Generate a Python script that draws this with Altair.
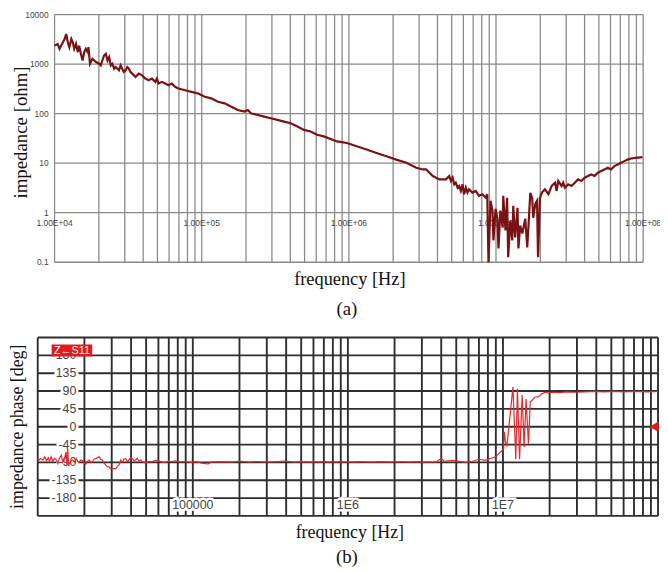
import altair as alt
import pandas as pd

# ---------------- data ----------------
imp_freq = [1.00e4, 1.05e4, 1.08e4, 1.14e4, 1.17e4, 1.20e4, 1.23e4, 1.26e4, 1.30e4, 1.33e4,
            1.36e4, 1.40e4, 1.44e4, 1.47e4, 1.51e4, 1.55e4, 1.59e4, 1.63e4, 1.68e4, 1.70e4,
            1.74e4, 1.81e4, 1.91e4, 2.01e4, 2.06e4, 2.11e4, 2.17e4, 2.23e4, 2.29e4, 2.35e4,
            2.41e4, 2.47e4, 2.54e4, 2.60e4, 2.74e4, 2.81e4, 2.88e4, 2.96e4, 3.04e4, 3.12e4,
            3.20e4, 3.28e4, 3.37e4, 3.55e4, 3.73e4, 3.93e4, 4.14e4, 4.36e4, 4.59e4, 4.84e4,
            4.96e4, 5.09e4, 5.36e4, 5.65e4, 5.94e4, 6.26e4, 6.59e4, 6.95e4, 7.71e4, 8.54e4,
            9.46e4, 1.05e5, 1.16e5, 1.29e5, 1.43e5, 1.59e5, 1.76e5, 1.95e5, 2.06e5, 2.16e5,
            2.40e5, 2.66e5, 2.95e5, 3.27e5, 3.63e5, 4.03e5, 4.47e5, 4.95e5, 5.49e5, 6.09e5,
            6.76e5, 8.30e5, 9.70e5, 1.13e6, 1.32e6, 1.54e6, 1.80e6, 2.10e6, 2.46e6, 2.87e6,
            3.18e6, 3.35e6, 3.53e6, 3.72e6, 4.12e6, 4.57e6, 4.81e6, 4.94e6, 5.07e6, 5.20e6,
            5.33e6, 5.48e6, 5.62e6, 5.77e6, 5.92e6, 6.07e6, 6.24e6, 6.40e6, 6.56e6, 6.91e6,
            7.28e6, 7.66e6, 8.07e6, 8.49e6, 8.72e6, 8.89e6, 9.18e6, 9.46e6, 9.61e6, 9.93e6,
            1.02e7, 1.04e7, 1.07e7, 1.11e7, 1.12e7, 1.16e7, 1.19e7, 1.21e7, 1.25e7, 1.29e7,
            1.31e7, 1.35e7, 1.40e7, 1.42e7, 1.46e7, 1.51e7, 1.58e7, 1.63e7, 1.66e7, 1.71e7,
            1.76e7, 1.79e7, 1.85e7, 1.90e7, 1.93e7, 1.99e7, 2.05e7, 2.15e7, 2.27e7, 2.39e7,
            2.52e7, 2.58e7, 2.65e7, 2.79e7, 2.86e7, 2.94e7, 3.09e7, 3.26e7, 3.43e7, 3.61e7,
            3.80e7, 4.01e7, 4.22e7, 4.44e7, 4.68e7, 4.92e7, 5.19e7, 5.46e7, 5.75e7, 6.05e7,
            6.38e7, 6.71e7, 7.08e7, 7.45e7, 7.84e7, 8.26e7, 8.92e7, 9.89e7]
imp_ohm = [2360, 2550, 2030, 2750, 3210, 4040, 2750, 2190, 3210, 2750,
           2030, 2550, 1740, 2360, 1610, 1180, 1740, 2030, 1740, 2190,
           1016, 1280, 1100, 1016, 940, 1180, 1490, 1610, 1180, 1380,
           940, 1016, 807, 870, 747, 940, 807, 692, 747, 870,
           807, 692, 641, 550, 641, 593, 509, 471, 509, 437,
           509, 405, 437, 405, 374, 405, 347, 321, 297, 275,
           255, 219, 203, 174, 161, 138, 118, 110, 118, 102,
           94, 87, 80.7, 74.7, 69, 64, 55, 47, 43.6, 37.4,
           34.7, 27.5, 25.5, 21.9, 18.8, 16.1, 13.8, 11.8, 10.2, 8.07,
           7.47, 7.47, 6.41, 5.5, 4.71, 4.71, 5.5, 4.37, 5.09, 3.74,
           4.04, 3.21, 3.47, 2.75, 3.74, 2.36, 3.21, 2.55, 2.97, 2.55,
           2.75, 2.19, 2.36, 2.03, 2.36, 0.1, 1.74, 1.10, 0.275, 1.20,
           0.79, 0.19, 1.10, 0.50, 2.19, 0.44, 2.0, 0.126, 0.69, 0.275,
           1.38, 0.316, 1.26, 0.19, 0.55, 0.38, 0.76, 0.2, 0.5, 2.51,
           2.0, 0.79, 1.51, 1.74, 0.126, 2.0, 2.55, 2.97, 2.36, 3.47,
           4.04, 2.75, 4.37, 3.47, 4.04, 3.21, 3.74, 3.47, 4.04, 4.71,
           4.37, 5.09, 5.5, 5.93, 5.5, 6.41, 6.92, 7.47, 8.07, 7.47,
           8.71, 9.4, 10.2, 11, 11.8, 12.4, 12.8, 13.2]

ph_freq = [1.00e4, 1.04e4, 1.08e4, 1.11e4, 1.14e4, 1.17e4, 1.19e4, 1.22e4, 1.25e4, 1.28e4,
           1.32e4, 1.35e4, 1.38e4, 1.42e4, 1.45e4, 1.49e4, 1.52e4, 1.54e4, 1.56e4, 1.58e4,
           1.60e4, 1.64e4, 1.68e4, 1.72e4, 1.77e4, 1.81e4, 1.85e4, 1.90e4, 1.95e4, 2.00e4,
           2.05e4, 2.10e4, 2.15e4, 2.20e4, 2.26e4, 2.31e4, 2.37e4, 2.43e4, 2.49e4, 2.55e4,
           2.61e4, 2.68e4, 2.75e4, 2.81e4, 2.88e4, 2.95e4, 3.03e4, 3.10e4, 3.18e4, 3.26e4,
           3.34e4, 3.43e4, 3.51e4, 3.60e4, 3.69e4, 3.78e4, 3.87e4, 3.97e4, 4.07e4, 4.17e4,
           4.27e4, 4.38e4, 4.49e4, 4.60e4, 4.71e4, 4.83e4, 4.95e4, 5.20e4, 5.46e4, 5.74e4,
           6.02e4, 6.33e4, 6.64e4, 6.98e4, 7.33e4, 7.70e4, 8.08e4, 8.49e4, 8.91e4, 9.36e4,
           9.83e4, 1.03e5, 1.08e5, 1.14e5, 1.20e5, 1.26e5, 1.32e5, 1.50e5, 1.80e5, 2.00e5,
           2.30e5, 2.60e5, 3.00e5, 3.50e5, 4.00e5, 4.50e5, 5.00e5, 6.00e5, 7.00e5, 8.00e5,
           9.00e5, 1.00e6, 1.20e6, 1.40e6, 1.60e6, 1.90e6, 2.20e6, 2.50e6, 2.80e6, 3.10e6,
           3.71e6, 3.99e6, 4.19e6, 4.73e6, 5.22e6, 5.76e6, 6.35e6, 7.00e6, 7.72e6, 8.32e6,
           8.95e6, 9.40e6, 9.88e6, 1.01e7, 1.02e7, 1.04e7, 1.06e7, 1.16e7, 1.21e7, 1.24e7,
           1.28e7, 1.33e7, 1.37e7, 1.41e7, 1.46e7, 1.50e7, 1.54e7, 1.57e7, 1.61e7, 1.70e7,
           1.78e7, 1.87e7, 1.97e7, 2.06e7, 2.33e7, 2.60e7, 2.90e7, 3.40e7, 3.90e7, 4.50e7,
           5.24e7, 6.00e7, 7.03e7, 8.50e7, 1.00e8]
ph_deg = [-89, -80, -84, -76, -85, -78, -88, -76, -87, -80,
          -84, -93, -79, -72, -90, -80, -64, -96, -55, -99,
          -93, -86, -84, -90, -80, -88, -89, -84, -86, -93,
          -94, -86, -84, -90, -88, -82, -80, -78, -76, -82,
          -84, -92, -97, -101, -101, -106, -107, -105, -106, -100,
          -97, -84, -90, -82, -80, -88, -84, -78, -80, -86,
          -84, -80, -86, -84, -87, -90, -91, -88, -88, -85,
          -86, -89, -90, -87, -88, -86, -89, -88, -88, -89,
          -90, -88, -89, -92, -93, -94, -89, -88, -89, -87,
          -89, -88, -89, -88, -87, -89, -88, -89, -88, -89,
          -88, -89, -88, -89, -88, -89, -88, -89, -88, -89,
          -89, -80, -87, -85, -87, -90, -87, -82, -85, -80,
          -76, -68, -60, -55, -13, -40, -50, 100, -82, 96,
          -82, 80, -51, 70, -43, 63, 66, 70, 75, 76,
          83, 87, 85, 87, 86, 88, 87, 88, 89, 88,
          89, 88, 89, 88, 89]

top_y_ticks = [0.1, 1, 10, 100, 1000, 10000]
top_y_text = ["0.1", "1", "10", "100", "1000", "10000"]
top_x_ticks = [1e4, 1e5, 1e6, 1e7, 1e8]
top_x_text = ["1.00E+04", "1.00E+05", "1.00E+06", "1.00E+07", "1.00E+08"]
bot_y_ticks = [180, 135, 90, 45, 0, -45, -90, -135, -180]
bot_y_text = ["180", "135", "90", "45", "0", "-45", "-90", "-135", "-180"]
bot_y_grid = [-225, -180, -135, -90, -45, 0, 45, 90, 135, 180, 225]
bot_x_ticks = [1e5, 1e6, 1e7]
bot_x_text = ["100000", "1E6", "1E7"]
grid_freqs = [m * 10 ** e for e in range(4, 8) for m in range(1, 10)] + [1e8]

SANS = "Liberation Sans"
SERIF = "Liberation Serif"


def xs_top():
    return alt.Scale(type="log", domain=[1e4, 1e8], range=[47, 641], nice=False)


def ys_top():
    return alt.Scale(type="log", domain=[0.1, 1e4], range=[254, 4], nice=False)


def xs_bot():
    return alt.Scale(type="log", domain=[1e4, 1e8], range=[30, 656], nice=False)


def ys_bot():
    return alt.Scale(domain=[-225, 225], range=[510, 330], nice=False, zero=False)


layers = []

# ---------------- top panel (a) ----------------
df_vg_top = pd.DataFrame({"f": grid_freqs, "lo": 0.1, "hi": 1e4})
layers.append(alt.Chart(df_vg_top).mark_rule(color="#8a8a8a", strokeWidth=1.3).encode(
    x=alt.X("f:Q", scale=xs_top(), axis=None),
    y=alt.Y("lo:Q", scale=ys_top(), axis=None),
    y2="hi:Q"))
df_hg_top = pd.DataFrame({"z": top_y_ticks, "f0": 1e4, "f1": 1e8})
layers.append(alt.Chart(df_hg_top).mark_rule(color="#8a8a8a", strokeWidth=1.3).encode(
    x=alt.X("f0:Q", scale=xs_top(), axis=None),
    x2="f1:Q",
    y=alt.Y("z:Q", scale=ys_top(), axis=None)))
df_ytl_top = pd.DataFrame({"z": top_y_ticks, "t": top_y_text, "f0": 1e4})
layers.append(alt.Chart(df_ytl_top).mark_text(
    align="right", baseline="middle", dx=-6, fontSize=8.5, font=SANS, color="#444").encode(
    x=alt.X("f0:Q", scale=xs_top(), axis=None),
    y=alt.Y("z:Q", scale=ys_top(), axis=None),
    text="t:N"))
df_xtl_top = pd.DataFrame({"f": top_x_ticks, "t": top_x_text, "z": 1})
layers.append(alt.Chart(df_xtl_top).mark_text(
    align="center", baseline="middle", dy=10, fontSize=8.5, font=SANS, color="#444").encode(
    x=alt.X("f:Q", scale=xs_top(), axis=None),
    y=alt.Y("z:Q", scale=ys_top(), axis=None),
    text="t:N"))
df_imp = pd.DataFrame({"f": imp_freq, "z": imp_ohm})
layers.append(alt.Chart(df_imp).mark_line(color="#7a1214", strokeWidth=2.2).encode(
    x=alt.X("f:Q", scale=xs_top(), axis=None),
    y=alt.Y("z:Q", scale=ys_top(), axis=None)))

# ---------------- bottom panel (b) ----------------
df_vg_bot = pd.DataFrame({"f": grid_freqs, "lo": -225, "hi": 225})
layers.append(alt.Chart(df_vg_bot).mark_rule(color="#2e2e2e", strokeWidth=1.9).encode(
    x=alt.X("f:Q", scale=xs_bot(), axis=None),
    y=alt.Y("lo:Q", scale=ys_bot(), axis=None),
    y2="hi:Q"))
df_hg_bot = pd.DataFrame({"d": bot_y_grid, "f0": 1e4, "f1": 1e8})
layers.append(alt.Chart(df_hg_bot).mark_rule(color="#2e2e2e", strokeWidth=1.9).encode(
    x=alt.X("f0:Q", scale=xs_bot(), axis=None),
    x2="f1:Q",
    y=alt.Y("d:Q", scale=ys_bot(), axis=None)))

df_ytl_bot = pd.DataFrame({"d": bot_y_ticks, "t": bot_y_text, "f0": 1e4})
df_xtl_bot = pd.DataFrame({"f": bot_x_ticks, "t": bot_x_text, "d": -198})
for halo in (True, False):
    extra = dict(stroke="white", strokeWidth=5, fill="white") if halo else dict(color="#444")
    layers.append(alt.Chart(df_ytl_bot).mark_text(
        align="right", baseline="middle", dx=39, fontSize=12.5, font=SANS, **extra).encode(
        x=alt.X("f0:Q", scale=xs_bot(), axis=None),
        y=alt.Y("d:Q", scale=ys_bot(), axis=None),
        text="t:N"))
    layers.append(alt.Chart(df_xtl_bot).mark_text(
        align="center", baseline="middle", fontSize=12.5, font=SANS, **extra).encode(
        x=alt.X("f:Q", scale=xs_bot(), axis=None),
        y=alt.Y("d:Q", scale=ys_bot(), axis=None),
        text="t:N"))

df_ph = pd.DataFrame({"f": ph_freq, "d": ph_deg})
layers.append(alt.Chart(df_ph).mark_line(color="#e8262b", strokeWidth=1.2).encode(
    x=alt.X("f:Q", scale=xs_bot(), axis=None),
    y=alt.Y("d:Q", scale=ys_bot(), axis=None)))

# trace label box
df_tag = pd.DataFrame({"t": ["Z←S11"]})
layers.append(alt.Chart(df_tag).mark_rect(color="#e31a1c").encode(
    x=alt.value(44), x2=alt.value(85), y=alt.value(337), y2=alt.value(349)))
layers.append(alt.Chart(df_tag).mark_text(
    color="white", fontSize=11, font=SANS, align="center", baseline="middle").encode(
    x=alt.value(64.5), y=alt.value(343.5), text="t:N"))

# reference marker at 0 deg
df_ref = pd.DataFrame({"d": [0]})
layers.append(alt.Chart(df_ref).mark_point(
    shape="triangle-left", filled=True, color="#e31a1c", size=110, opacity=1).encode(
    x=alt.value(652),
    y=alt.Y("d:Q", scale=ys_bot(), axis=None)))

# ---------------- titles ----------------
df_t1 = pd.DataFrame({"t": ["impedance [ohm]"]})
layers.append(alt.Chart(df_t1).mark_text(
    angle=270, fontSize=19, font=SERIF, color="#111", align="center", baseline="middle").encode(
    x=alt.value(13), y=alt.value(123), text="t:N"))
df_t2 = pd.DataFrame({"t": ["frequency [Hz]"]})
layers.append(alt.Chart(df_t2).mark_text(
    fontSize=18.5, font=SERIF, color="#111", align="center", baseline="middle").encode(
    x=alt.value(345), y=alt.value(271), text="t:N"))
df_t3 = pd.DataFrame({"t": ["(a)"]})
layers.append(alt.Chart(df_t3).mark_text(
    fontSize=19, font=SERIF, color="#111", align="center", baseline="middle").encode(
    x=alt.value(342), y=alt.value(301), text="t:N"))
df_t4 = pd.DataFrame({"t": ["impedance phase [deg]"]})
layers.append(alt.Chart(df_t4).mark_text(
    angle=270, fontSize=18, font=SERIF, color="#111", align="center", baseline="middle").encode(
    x=alt.value(10.5), y=alt.value(420), text="t:N"))
df_t5 = pd.DataFrame({"t": ["frequency [Hz]"]})
layers.append(alt.Chart(df_t5).mark_text(
    fontSize=18, font=SERIF, color="#111", align="center", baseline="middle").encode(
    x=alt.value(345), y=alt.value(527), text="t:N"))
df_t6 = pd.DataFrame({"t": ["(b)"]})
layers.append(alt.Chart(df_t6).mark_text(
    fontSize=19, font=SERIF, color="#111", align="center", baseline="middle").encode(
    x=alt.value(342), y=alt.value(552), text="t:N"))

chart = alt.layer(*layers).resolve_scale(
    x="independent", y="independent"
).properties(
    width=658, height=563, padding=0,
    autosize=alt.AutoSizeParams(type="none"),
).configure_view(stroke=None)

chart.save("out.html", embed_options={"renderer": "svg", "actions": False})
